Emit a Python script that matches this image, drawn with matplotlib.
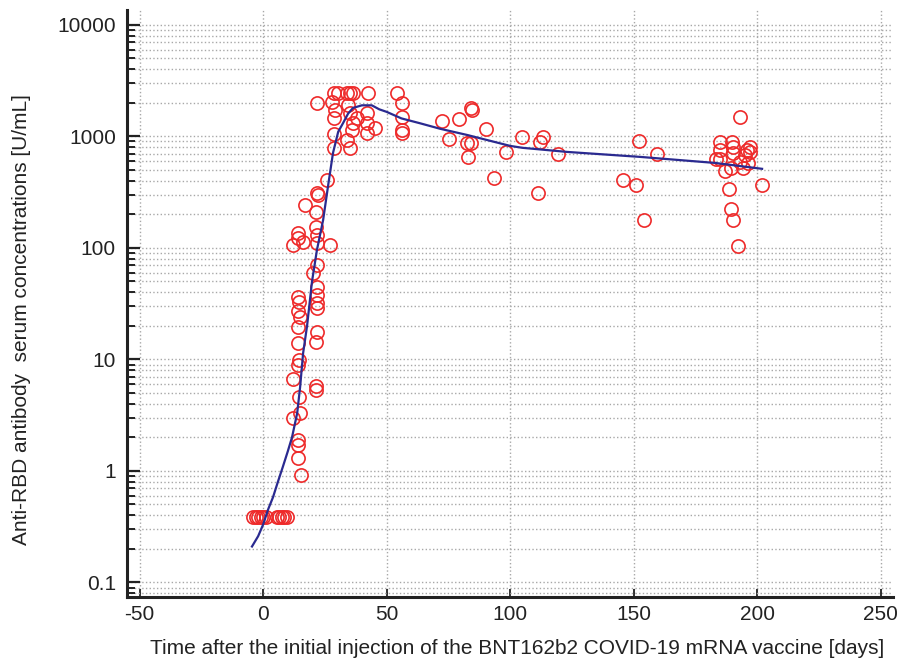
import matplotlib
matplotlib.use("Agg")
import matplotlib.pyplot as plt
from matplotlib import ticker

plt.rcParams["font.family"] = ["Liberation Sans", "DejaVu Sans"]
plt.rcParams["axes.unicode_minus"] = False

# observed antibody concentrations (days after first dose, U/mL)
obs_days = [
    -4, -3, -2, -1, 0, 1, 5.5, 6.5, 7.5, 8.5, 9.5,
    14.2, 21.9, 21.5, 14.2, 14.6, 14.2, 12.1, 21.5, 21.5, 14.6, 15, 12.1,
    14.2, 14.2, 14.2, 15.4,
    21.9, 22.3, 17, 21.5, 21.5, 21.9, 14.2, 14.2, 16.2, 12.1, 21.9, 21.9,
    20.2, 21.9, 21.9, 14.2, 14.6, 21.9, 14.2, 21.9, 15, 27, 26, 21.7,
    28.5, 30.4, 34, 35.2, 36.4, 42.5, 54.3, 56.3, 28, 29, 28.5, 34.4, 35,
    42, 38, 36.4, 36, 42, 45.3, 42, 34, 35.2, 28.5, 28.5, 56.3, 56.3, 56.3,
    72.5, 75.3, 79.4, 84.2, 84.5, 82.6, 84.2, 83, 90.3, 93.5, 98.4, 105,
    112, 113.4, 111.3, 119.4, 145.7, 151, 152.2, 154.2, 159.5,
    193.1, 185, 185, 189.9, 190.3, 190.3, 183.4, 185, 187, 189.5, 194.3,
    196.4, 197.2, 196, 197.2, 193, 195, 188.7, 189.5, 190.3, 192.3, 202,
]
obs_conc = [
    0.39, 0.39, 0.39, 0.39, 0.39, 0.39, 0.39, 0.39, 0.39, 0.39, 0.39,
    19.6, 17.6, 14.3, 14, 9.9, 8.9, 6.7, 5.8, 5.3, 4.6, 3.3, 3.0,
    1.9, 1.7, 1.3, 0.92,
    311, 300, 243, 210, 154, 131, 136, 123, 113, 106, 111, 70,
    59, 45, 38, 36, 33, 32, 27, 29, 24, 106, 408, 1990,
    2450, 2450, 2450, 2450, 2450, 2450, 2450, 1990, 2030, 1740, 1450, 1900, 1620,
    1620, 1450, 1310, 1140, 1310, 1190, 1080, 930, 790, 1040, 790, 1500, 1140, 1080,
    1370, 950, 1430, 1780, 1720, 880, 880, 650, 1170, 425, 730, 990,
    890, 990, 310, 690, 410, 370, 910, 178, 700,
    1500, 893, 757, 893, 805, 711, 628, 628, 490, 521, 521,
    578, 726, 757, 805, 590, 682, 338, 224, 178, 104, 367,
]

# fitted model curve
fit_days = [-4.5, -2, 0, 2, 4, 6, 8, 10, 11.7, 13.8, 15, 16.2, 17.8, 19.8,
            21.8, 24.3, 26.3, 28.3, 30.4, 32.4, 34.4, 36.4, 40, 44, 47, 50,
            56, 63.6, 71.7, 82.6, 100, 105, 123, 152.6, 183, 202]
fit_conc = [0.21, 0.26, 0.33, 0.45, 0.58, 0.8, 1.09, 1.5, 2.0, 3.3, 5.7, 11.4,
            20, 50, 96, 178, 360, 711, 1100, 1320, 1600, 1800, 1900, 1900,
            1750, 1660, 1450, 1310, 1170, 1030, 822, 790, 726, 655, 578, 512]

x_ticks = [-50, 0, 50, 100, 150, 200, 250]
y_ticks = [0.1, 1, 10, 100, 1000, 10000]

fig = plt.figure(figsize=(8.97, 6.58), dpi=100)
ax = fig.add_axes([127 / 897, 1 - 597 / 658, (893 - 127) / 897, (597 - 10) / 658])

ax.plot(obs_days, obs_conc, linestyle="none", marker="o", markersize=9.5,
        markerfacecolor="none", markeredgecolor="#ee2a2a", markeredgewidth=1.2,
        zorder=3)
ax.plot(fit_days, fit_conc, color="#2a2a90", linewidth=1.6, zorder=4)

ax.set_yscale("log")
ax.set_xlim(-55.1, 255)
ax.set_ylim(0.074, 13600)
ax.set_xticks(x_ticks)
ax.set_yticks(y_ticks)
ax.yaxis.set_major_formatter(ticker.FuncFormatter(lambda v, p: f"{v:g}"))
ax.yaxis.set_minor_locator(ticker.LogLocator(base=10, subs=range(2, 10)))
ax.yaxis.set_minor_formatter(ticker.NullFormatter())

ax.grid(True, which="major", axis="both", color="#a8a8a8", linestyle=":", linewidth=1.0)
ax.grid(True, which="minor", axis="y", color="#a8a8a8", linestyle=":", linewidth=1.0)
ax.set_axisbelow(True)

for side in ["top", "right"]:
    ax.spines[side].set_visible(False)
for side in ["left", "bottom"]:
    ax.spines[side].set_linewidth(2.2)
    ax.spines[side].set_color("#222222")

ax.tick_params(axis="y", which="major", direction="in", length=9, width=1.6,
               labelsize=15, pad=8, colors="#222222")
ax.tick_params(axis="y", which="minor", direction="in", length=5.5, width=1.4,
               colors="#222222")
ax.tick_params(axis="x", which="major", direction="in", length=6, width=1.3,
               labelsize=15, pad=6, colors="#222222")

fig.text(517 / 897, 1 - 648 / 658, "Time after the initial injection of the BNT162b2 COVID-19 mRNA vaccine [days]",
         ha="center", va="center", fontsize=15, color="#222222")
fig.text(22 / 897, 1 - 320 / 658, "Anti-RBD antibody  serum concentrations [U/mL]",
         ha="center", va="center", rotation=90, fontsize=15, color="#222222")

fig.savefig("out.png", dpi=100)
